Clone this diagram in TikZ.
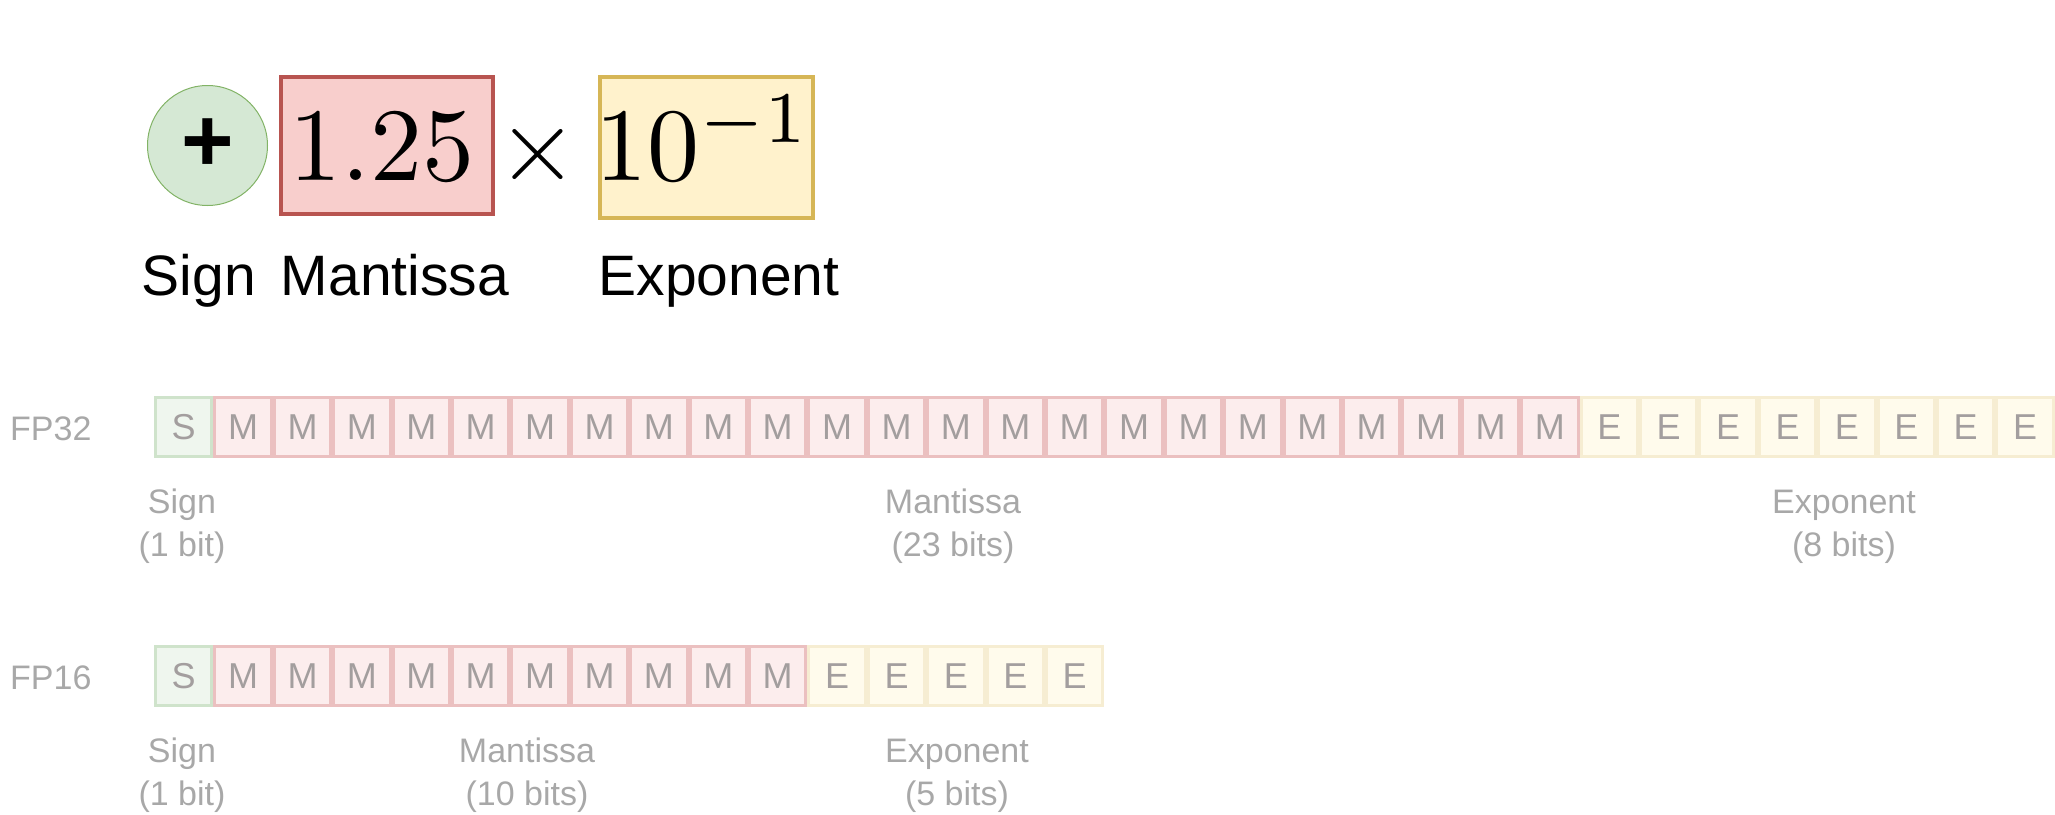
\documentclass[tikz,border=0pt]{standalone}
\usepackage{fontspec}
\setmainfont{Liberation Sans}
\definecolor{sfill}{HTML}{EFF6EE}
\definecolor{sdraw}{HTML}{CFE3CB}
\definecolor{mfill}{HTML}{FCEDED}
\definecolor{mdraw}{HTML}{EBC0C0}
\definecolor{efill}{HTML}{FFFBEC}
\definecolor{edraw}{HTML}{F6EDD2}
\definecolor{celltext}{HTML}{A39E9E}
\definecolor{labtext}{HTML}{A8A8A8}
\definecolor{gfill}{HTML}{D5E8D4}
\definecolor{gdraw}{HTML}{82B366}
\definecolor{rfill}{HTML}{F8CECC}
\definecolor{rdraw}{HTML}{B85450}
\definecolor{yfill}{HTML}{FFF2CC}
\definecolor{ydraw}{HTML}{D6B656}
\tikzset{
  cell/.style={rectangle, minimum width=56.4pt, minimum height=59pt, inner sep=0pt,
    line width=3pt, text=celltext, font=\fontsize{36}{40}\selectfont},
  scell/.style={cell, fill=sfill, draw=sdraw},
  mcell/.style={cell, fill=mfill, draw=mdraw},
  ecell/.style={cell, fill=efill, draw=edraw},
  rowlab/.style={anchor=base west, inner sep=0pt, text=labtext, font=\fontsize{34}{40}\selectfont},
  sublab/.style={anchor=base, inner sep=0pt, text=labtext, font=\fontsize{34}{40}\selectfont},
  toplab/.style={anchor=base, inner sep=0pt, text=black, font=\fontsize{57}{64}\selectfont},
  bigmath/.style={inner sep=0pt, font=\fontsize{10}{12}\selectfont, scale=10.4},
}
\begin{document}
\begin{tikzpicture}[x=1pt,y=-1pt]
\useasboundingbox (0,0) rectangle (2055,814);

% ---- top formula ----
\node[circle, minimum size=120pt, inner sep=0pt, fill=gfill, draw=gdraw, line width=1pt] (sgn) at (207.5,145.5) {};
\node[inner sep=0pt, font=\fontsize{90}{100}\selectfont\bfseries] (plus) at (sgn.center) {+};
\node[rectangle, minimum width=212pt, minimum height=137pt, fill=rfill, draw=rdraw, line width=4pt] (mant) at (387,145.5) {};
\node[bigmath, anchor=base] (mantv) at (382,180) {$1.25$};
\node[bigmath, anchor=base] (times) at (538,180) {$\times$};
\node[rectangle, minimum width=213pt, minimum height=141pt, fill=yfill, draw=ydraw, line width=4pt] (expo) at (706.5,147.5) {};
\node[bigmath, anchor=base] (expov) at (703,180) {$10^{-1}$};

\node[toplab] (lsign) at (199,295) {Sign};
\node[toplab] (lmant) at (395,295) {Mantissa};
\node[toplab] (lexpo) at (719,295) {Exponent};

% ---- FP32 ----
\node[rowlab] (fp32) at (10,440) {FP32};
\node[scell] (f32s) at ({154+0.5*59.4},427) {S};
\foreach \i in {1,...,23} {
  \node[mcell] (f32m\i) at ({154+(\i+0.5)*59.4},427) {M};
}
\foreach \j in {1,...,8} {
  \node[ecell] (f32e\j) at ({154+(23+\j+0.5)*59.4},427) {E};
}
\node[sublab] (f32sa) at (182,513) {Sign};
\node[sublab] (f32sb) at (182,556) {(1 bit)};
\node[sublab] (f32ma) at (953,513) {Mantissa};
\node[sublab] (f32mb) at (953,556) {(23 bits)};
\node[sublab] (f32ea) at (1844,513) {Exponent};
\node[sublab] (f32eb) at (1844,556) {(8 bits)};

% ---- FP16 ----
\node[rowlab] (fp16) at (10,689) {FP16};
\node[scell] (f16s) at ({154+0.5*59.4},676) {S};
\foreach \i in {1,...,10} {
  \node[mcell] (f16m\i) at ({154+(\i+0.5)*59.4},676) {M};
}
\foreach \j in {1,...,5} {
  \node[ecell] (f16e\j) at ({154+(10+\j+0.5)*59.4},676) {E};
}
\node[sublab] (f16sa) at (182,762) {Sign};
\node[sublab] (f16sb) at (182,805) {(1 bit)};
\node[sublab] (f16ma) at (527,762) {Mantissa};
\node[sublab] (f16mb) at (527,805) {(10 bits)};
\node[sublab] (f16ea) at (957,762) {Exponent};
\node[sublab] (f16eb) at (957,805) {(5 bits)};
\end{tikzpicture}
\end{document}
